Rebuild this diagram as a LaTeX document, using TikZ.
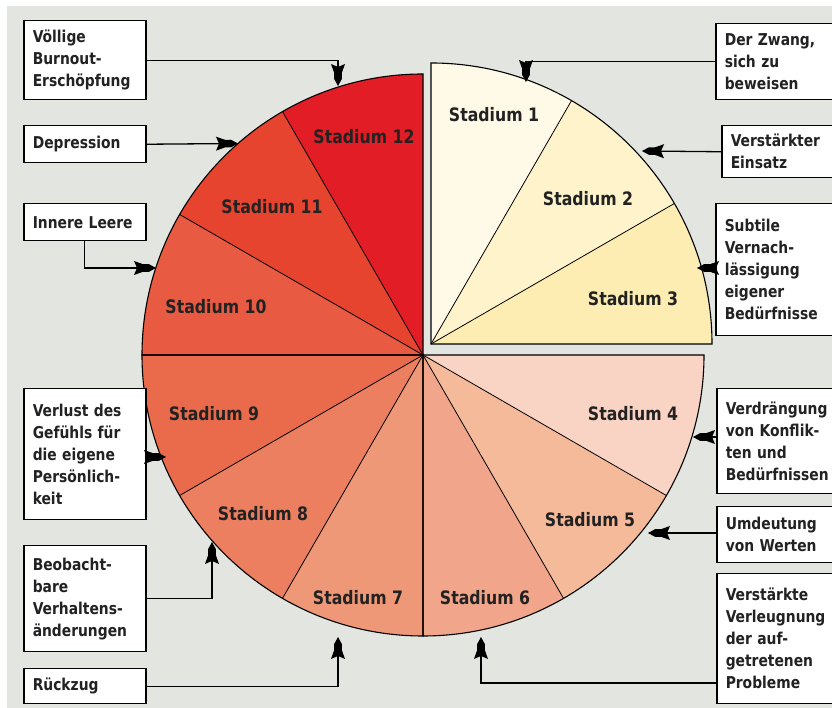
\documentclass[tikz,border=0pt]{standalone}
\usepackage{fontspec}
\newfontfamily\lbl{DejaVu Sans}[FakeStretch=0.85]
\usetikzlibrary{arrows.meta}
\definecolor{bg}{RGB}{226,229,224}
\definecolor{txt}{RGB}{34,34,34}
\definecolor{s1}{HTML}{FFF9E7}
\definecolor{s2}{HTML}{FEF3CB}
\definecolor{s3}{HTML}{FDEDB3}
\definecolor{s4}{HTML}{F9D3C3}
\definecolor{s5}{HTML}{F5BA9A}
\definecolor{s6}{HTML}{F1A68C}
\definecolor{s7}{HTML}{EF9878}
\definecolor{s8}{HTML}{EC7F5F}
\definecolor{s9}{HTML}{EA6B4C}
\definecolor{s10}{HTML}{E85A42}
\definecolor{s11}{HTML}{E6442F}
\definecolor{s12}{HTML}{E21D25}
\pgfdeclarearrow{
  name = Rocket,
  setup code = {
    \pgfarrowssettipend{0pt}
    \pgfarrowssetlineend{-16pt}
    \pgfarrowssetvisualbackend{-19pt}
    \pgfarrowssetbackend{-22pt}
    \pgfarrowshullpoint{0pt}{0pt}
    \pgfarrowshullpoint{-22pt}{7pt}
    \pgfarrowshullpoint{-22pt}{-7pt}
  },
  drawing code = {
    \pgfpathmoveto{\pgfqpoint{0pt}{0pt}}
    \pgfpathlineto{\pgfqpoint{-7pt}{3.8pt}}
    \pgfpathlineto{\pgfqpoint{-13pt}{3.8pt}}
    \pgfpathlineto{\pgfqpoint{-22pt}{7pt}}
    \pgfpathlineto{\pgfqpoint{-19pt}{0pt}}
    \pgfpathlineto{\pgfqpoint{-22pt}{-7pt}}
    \pgfpathlineto{\pgfqpoint{-13pt}{-3.8pt}}
    \pgfpathlineto{\pgfqpoint{-7pt}{-3.8pt}}
    \pgfpathclose
    \pgfusepathqfill
  }
}
\begin{document}
\begin{tikzpicture}[x=1pt,y=1pt,
  box/.style={draw=black, line width=1.5pt, fill=white, anchor=north west, align=left,
    inner xsep=9pt, inner ysep=0pt, text=txt,
    font=\lbl\bfseries\fontsize{16.3}{22}\selectfont},
  lbox/.style={box, text width=104pt},
  rbox/.style={box, text width=122pt},
  stad/.style={text=txt, font=\lbl\bfseries\fontsize{18.5}{22}\selectfont},
  arr/.style={draw=black, line width=1.3pt, -Rocket},
  divider/.style={draw=black, line width=0.8pt},
  quad/.style={draw=black, line width=1.1pt, line join=miter}
]
\clip (0,0) rectangle (832,708);
\fill[white] (0,0) rectangle (832,708);
\fill[bg] (7,0) rectangle (832,702);

\coordinate (C) at (423,353);
\coordinate (Y) at (431,364);
\def\R{281}

% yellow quadrant (exploded)
\foreach \a/\c in {60/s1,30/s2,0/s3}{
  \fill[\c] (Y) -- ++(\a:\R) arc[start angle=\a,end angle=\a+30,radius=\R] -- cycle;
}
% other quadrants
\foreach \a/\c in {330/s4,300/s5,270/s6,240/s7,210/s8,180/s9,150/s10,120/s11,90/s12}{
  \fill[\c] (C) -- ++(\a:\R) arc[start angle=\a,end angle=\a+30,radius=\R] -- cycle;
}
% dividers
\foreach \a in {30,60}{ \draw[divider] (Y) -- ++(\a:\R); }
\foreach \a in {120,150,210,240,300,330}{ \draw[divider] (C) -- ++(\a:\R); }
% quadrant outlines
\draw[quad] (Y) -- ++(0:\R) arc[start angle=0,end angle=90,radius=\R] -- cycle;
\draw[quad] (C) -- ++(90:\R) arc[start angle=90,end angle=180,radius=\R] -- cycle;
\draw[quad] (C) -- ++(180:\R) arc[start angle=180,end angle=270,radius=\R] -- cycle;
\draw[quad] (C) -- ++(270:\R) arc[start angle=270,end angle=360,radius=\R] -- cycle;

% stage labels
\node[stad] (l1) at (494,593) {Stadium 1};
\node[stad] (l2) at (588,509) {Stadium 2};
\node[stad] (l3) at (633,409) {Stadium 3};
\node[stad] (l4) at (633,294) {Stadium 4};
\node[stad] (l5) at (590,188) {Stadium 5};
\node[stad] (l6) at (485,110) {Stadium 6};
\node[stad] (l7) at (358,110) {Stadium 7};
\node[stad] (l8) at (263,194) {Stadium 8};
\node[stad] (l9) at (214,294) {Stadium 9};
\node[stad] (l10) at (216,401) {Stadium 10};
\node[stad] (l11) at (272,501) {Stadium 11};
\node[stad] (l12) at (364,571) {Stadium 12};

% left boxes
\node[lbox, minimum height=79pt] (b1) at (23,688) {Völlige\\Burnout-\\Erschöpfung};
\node[lbox, minimum height=37pt] (b2) at (23,583) {Depression};
\node[lbox, minimum height=37pt] (b3) at (23,505) {Innere Leere};
\node[lbox, minimum height=131pt] (b4) at (23,320) {Verlust des\\Gefühls für\\die eigene\\Persönlich-\\keit};
\node[lbox, minimum height=106pt] (b5) at (23,163) {Beobacht-\\bare\\Verhaltens-\\änderungen};
\node[lbox, minimum height=35pt] (b6) at (23,40) {Rückzug};
% right boxes
\node[rbox, minimum height=76pt] (b7) at (715,685) {Der Zwang,\\sich zu\\beweisen};
\node[rbox, minimum height=52pt] (b8) at (721,583) {Verstärkter\\Einsatz};
\node[rbox, minimum height=132pt] (b9) at (715,505) {Subtile\\Vernach-\\lässigung\\eigener\\Bedürfnisse};
\node[rbox, minimum height=105pt] (b10) at (716,320) {Verdrängung\\von Konflik-\\ten und\\Bedürfnissen};
\node[rbox, minimum height=56pt] (b11) at (716,202) {Umdeutung\\von Werten};
\node[rbox, minimum height=130pt] (b12) at (716,135) {Verstärkte\\Verleugnung\\der auf-\\getretenen\\Probleme};

% arrow targets
\coordinate (t1) at (338,622);
\coordinate (t2) at (238,564.5);
\coordinate (t3) at (156,440);
\coordinate (t4) at (166,251);
\coordinate (t5) at (212,166);
\coordinate (t6) at (338,71);
\coordinate (t7) at (526,626);
\coordinate (t8) at (642,557);
\coordinate (t9) at (697,440);
\coordinate (t10) at (693,271);
\coordinate (t11) at (648,175);
\coordinate (t12) at (481,71);
\coordinate (s12) at (716,25);

% connectors
\draw[arr] (b1.east) -| (t1);
\draw[arr] (b2.east) -- (t2);
\draw[arr] (b3.south) |- (t3);
\draw[arr] (b4.east |- t4) -- (t4);
\draw[arr] (b5.east) -| (t5);
\draw[arr] (b6.east) -| (t6);
\draw[arr] (b7.west) -| (t7);
\draw[arr] (b8.west) -- (t8);
\draw[arr] (b9.west |- t9) -- (t9);
\draw[arr] (b10.west |- t10) -- (t10);
\draw[arr] (b11.west |- t11) -- (t11);
\draw[arr] (s12) -| (t12);
\end{tikzpicture}
\end{document}
